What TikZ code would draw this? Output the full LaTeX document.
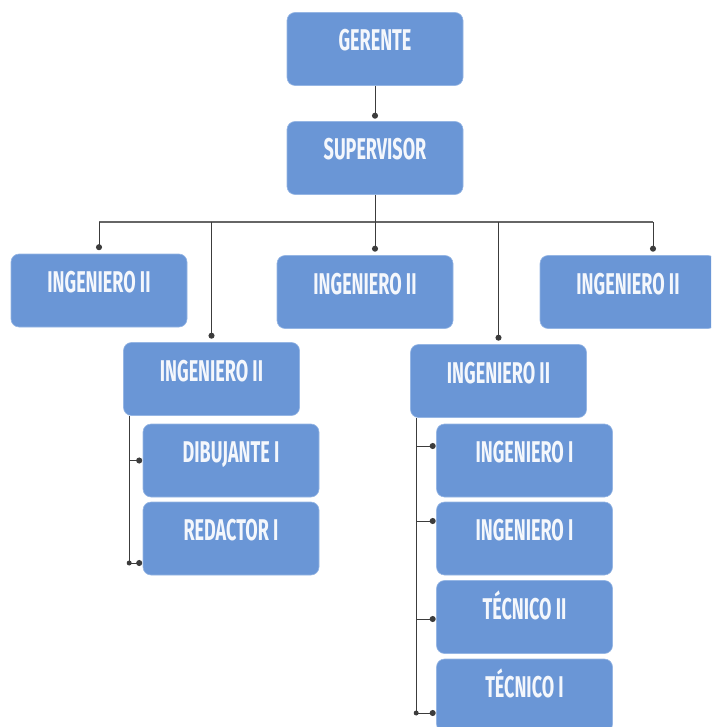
\documentclass[tikz,border=0pt]{standalone}
\usepackage{fontspec}
\usetikzlibrary{arrows.meta}
\newfontfamily\boxfont{Fira Sans}[FakeStretch=0.6]
\definecolor{boxblue}{RGB}{106,150,214}
\definecolor{boxedge}{RGB}{150,182,228}
\definecolor{textwhite}{RGB}{244,247,252}
\definecolor{linegray}{RGB}{60,60,60}
\tikzset{
  orgbox/.style={rectangle, rounded corners=8pt, fill=boxblue, draw=boxedge, line width=0.6pt,
    minimum width=176pt, minimum height=73pt, inner sep=0pt,
    text=textwhite, font=\boxfont\bfseries\fontsize{30}{30}\selectfont,
    text height=20pt, text depth=16pt},
  link/.style={draw=linegray, line width=1pt},
  conn/.style={link, -{Circle[length=6pt]}, shorten >=0.5pt},
  jointdot/.style={fill=linegray}
}
\begin{document}
\begin{tikzpicture}[x=1pt, y=-1pt]
  \useasboundingbox (0,0) rectangle (711,727);
  \clip (0,0) rectangle (711,727);

  % boxes
  \node[orgbox] (ger) at (375,49) {GERENTE};
  \node[orgbox] (sup) at (375,158) {SUPERVISOR};
  \node[orgbox] (ingL) at (99,290.5) {INGENIERO II};
  \node[orgbox] (ingM) at (365,292) {INGENIERO II};
  \node[orgbox] (ingR) at (628,292) {INGENIERO II};
  \node[orgbox] (subL) at (211.5,379) {INGENIERO II};
  \node[orgbox] (dib) at (231,460.5) {DIBUJANTE I};
  \node[orgbox] (red) at (231,538.5) {REDACTOR I};
  \node[orgbox] (subR) at (498.5,381) {INGENIERO II};
  \node[orgbox] (ingA) at (524.5,460.5) {INGENIERO I};
  \node[orgbox] (ingB) at (524.5,538.5) {INGENIERO I};
  \node[orgbox] (tecA) at (524.5,617) {TÉCNICO II};
  \node[orgbox] (tecB) at (524.5,695.5) {TÉCNICO I};

  % bus below the supervisor
  \coordinate (bus) at (375,222);
  \coordinate (busL) at (99,222);
  \coordinate (busR) at (653,222);
  \draw[link, draw=gray!80!black, line width=1.4pt] (busL) -- (busR);

  % top connectors
  \draw[conn] (ger.south) -- ([yshift=2pt]sup.north);
  \draw[conn] (sup.south) -- ([yshift=3pt]sup.south |- ingM.north);
  \draw[conn] (busL) -- ([yshift=3pt]ingL.north);
  \draw[conn] (busR) -- ([yshift=3pt]busR |- ingR.north);
  \draw[conn] (subL.north |- bus) -- ([yshift=3pt]subL.north);
  \draw[conn] (subR.north |- bus) -- ([yshift=3pt]subR.north);

  % left bracket
  \coordinate (lb) at ([xshift=6pt]subL.south west);
  \coordinate (lbEnd) at (lb |- 0,563);
  \draw[link] (lb) -- (lbEnd);
  \draw[conn] (lb |- dib.west) -- (dib.west);
  \draw[conn] (lbEnd) -- (red.west |- lbEnd);
  \fill[jointdot] (lbEnd) circle (2.5pt);

  % right bracket
  \coordinate (rb) at ([xshift=6pt]subR.south west);
  \coordinate (rbEnd) at (rb |- 0,713);
  \draw[link] (rb) -- (rbEnd);
  \draw[conn] (rb |- 0,446) -- (ingA.west |- 0,446);
  \draw[conn] (rb |- 0,521) -- (ingB.west |- 0,521);
  \draw[conn] (rb |- 0,619) -- (tecA.west |- 0,619);
  \draw[conn] (rbEnd) -- (tecB.west |- rbEnd);
  \fill[jointdot] (rbEnd) circle (2.5pt);
\end{tikzpicture}
\end{document}
